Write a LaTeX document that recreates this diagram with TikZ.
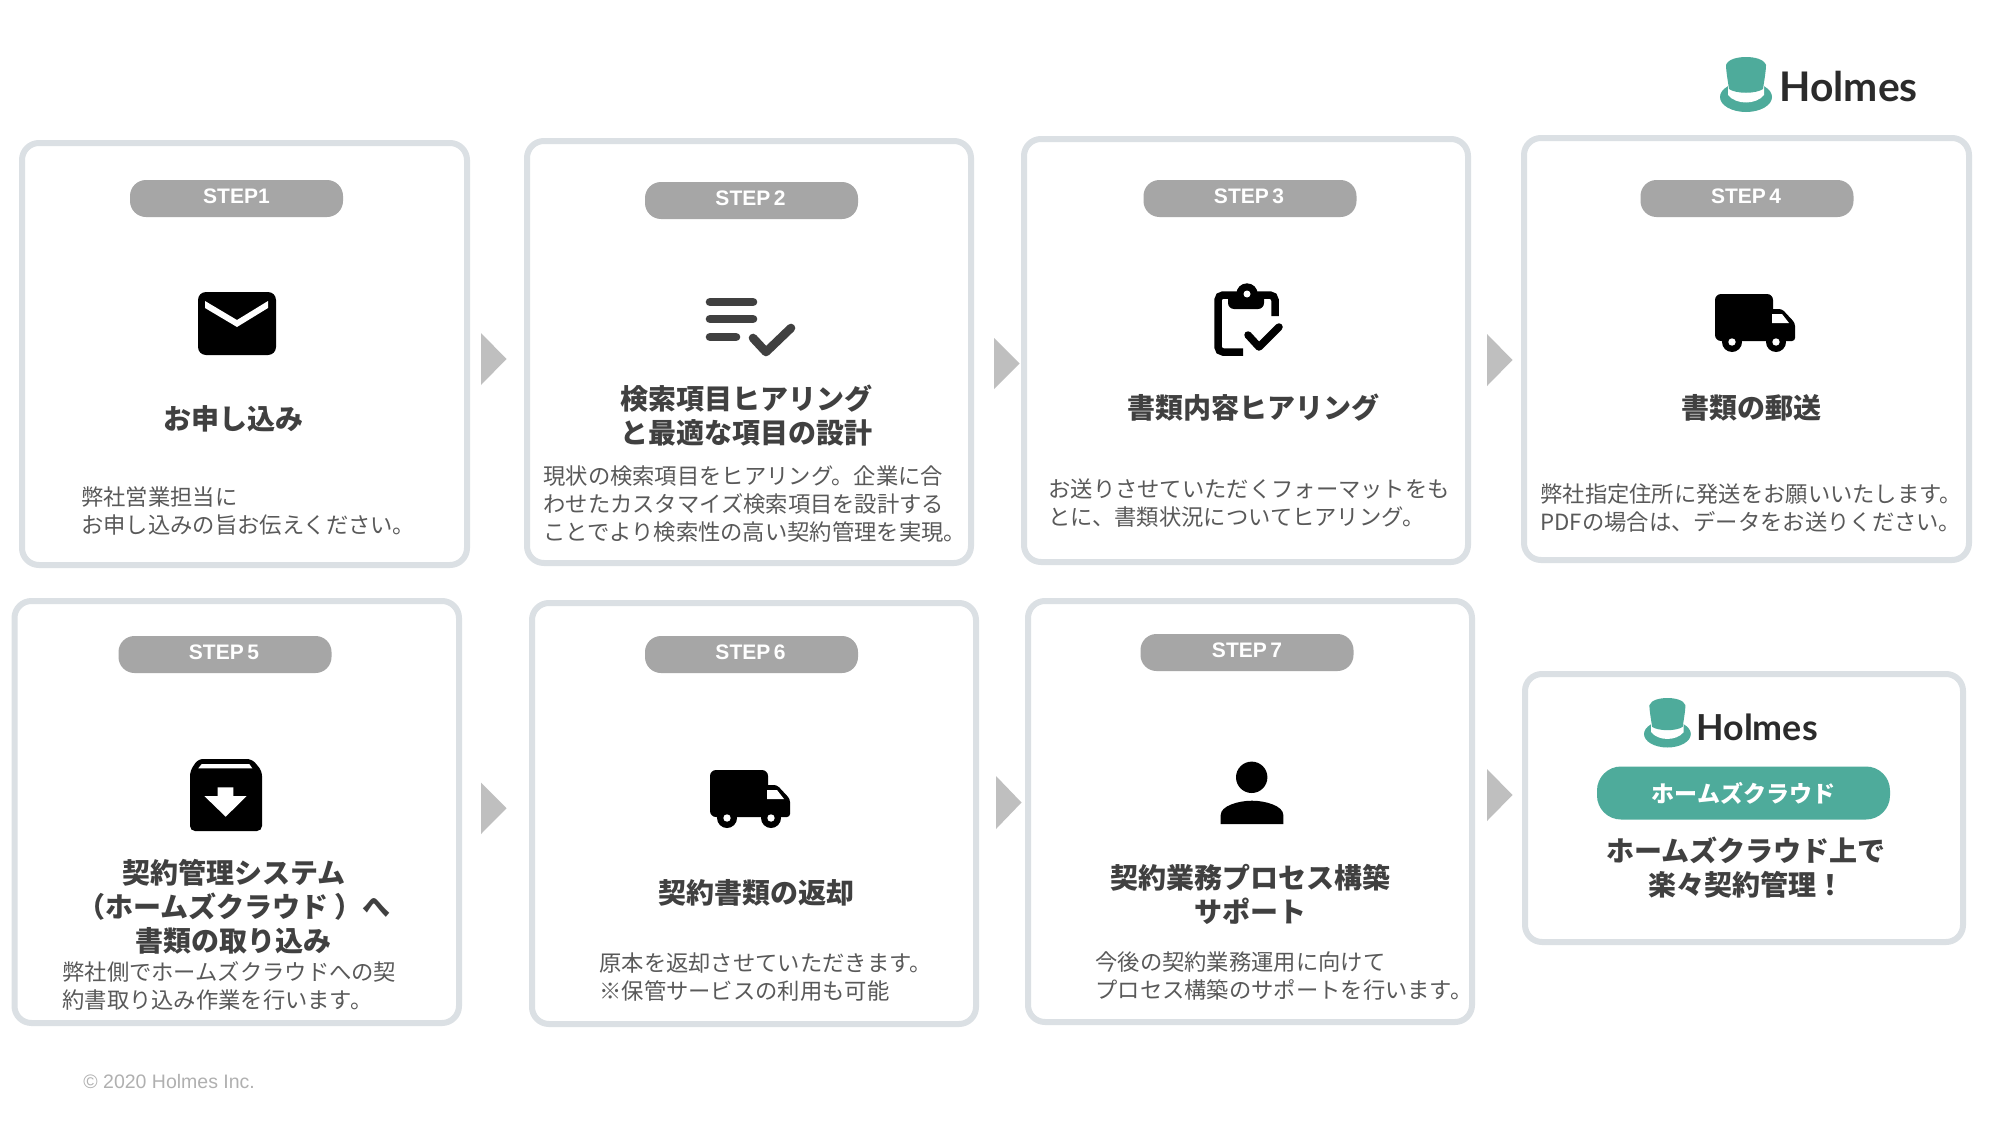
\documentclass[tikz,border=0pt]{standalone}
\usepackage{fontspec}
\setmainfont{Noto Sans CJK JP}
\newfontfamily\stepfont{Liberation Sans}
\newfontfamily\logofont{Lato}
\definecolor{cardline}{HTML}{DBE0E4}
\definecolor{pillgrey}{HTML}{A6A6A6}
\definecolor{arrowgrey}{HTML}{BFBFBF}
\definecolor{headgrey}{HTML}{404040}
\definecolor{bodygrey}{HTML}{595959}
\definecolor{teal}{HTML}{4EAB9B}
\definecolor{logotext}{HTML}{2B2B2B}
\definecolor{copygrey}{HTML}{B0B0B0}
\tikzset{
  card/.style={draw=cardline,line width=3pt,fill=white,rounded corners=8.5pt,inner sep=0pt},
  pill/.style={fill=pillgrey,rounded corners=8pt,inner sep=0pt,text=white,font=\stepfont\bfseries\fontsize{10.5}{12}\selectfont,minimum width=106.5pt,minimum height=18.5pt},
  tealpill/.style={fill=teal,rounded corners=12pt,inner sep=0pt,text=white,font=\bfseries\fontsize{11.5}{14}\selectfont,minimum width=146.5pt,minimum height=26.5pt},
  head/.style={text=headgrey,font=\bfseries\fontsize{14}{17}\selectfont,align=center,inner sep=0pt},
  body/.style={text=bodygrey,font=\fontsize{11.15}{14}\selectfont,align=left,anchor=west,inner sep=0pt},
  arrowtri/.style={fill=arrowgrey},
  logoword/.style={text=logotext,font=\logofont\bfseries,anchor=base west,inner sep=0pt},
  iconline/.style={line cap=round,line join=round,line width=4.3pt}
}
\newcommand{\cardbox}[5]{%
  \pgfmathsetmacro{\cw}{(#4-#2-6)*0.5}\pgfmathsetmacro{\ch}{(#5-#3-6)*0.5}%
  \node[card,minimum width=\cw pt,minimum height=\ch pt] (#1) at ({(#2+#4)/2},{(#3+#5)/2}) {};}
\newcommand{\tri}[3]{%
  \fill[arrowtri] (#1,#2) -- ({#1+25.5},{(#2+#3)/2}) -- (#1,#3) -- cycle;}
\newcommand{\holmeshat}[3]{%
  \begin{scope}[shift={(#1,#2)},scale=#3]
    \fill[teal] (26,40) ellipse [x radius=26,y radius=15];
    \fill[white] (8,28) -- (44,28) -- (44,38) .. controls (36,48) and (16,48) .. (8,38) -- cycle;
    \fill[teal] (6,8) .. controls (8,2) and (18,0) .. (26,0) .. controls (34,0) and (44,2) .. (46,8)
      .. controls (46,14) and (44,25) .. (43,32) .. controls (36,37) and (16,37) .. (9,32)
      .. controls (8,25) and (6,14) .. (6,8) -- cycle;
  \end{scope}}
\newcommand{\truck}[2]{%
  \begin{scope}[shift={(#1,#2)}]
    \fill[black,rounded corners=3pt] (0,0) rectangle (58,47);
    \fill[black,rounded corners=1.5pt] (50,15) -- (67,15) -- (80,29) -- (80,47) -- (50,47) -- cycle;
    \fill[white] (57,20) -- (67,20) -- (74,29) -- (57,29) -- cycle;
    \fill[black] (17,48) circle (10);
    \fill[black] (61,48) circle (10);
    \fill[white] (17,48) circle (3.7);
    \fill[white] (61,48) circle (3.7);
  \end{scope}}
\begin{document}
\begin{tikzpicture}[x=0.5pt,y=-0.5pt]
\useasboundingbox (0,0) rectangle (1998,1124);
\fill[white] (0,0) rectangle (1998,1124);

% cards
\cardbox{c1}{19}{140}{470}{568}
\cardbox{c2}{524}{138}{974}{566}
\cardbox{c3}{1021}{136}{1471}{565}
\cardbox{c4}{1521}{135}{1972}{563}
\cardbox{c5}{11.5}{598}{462}{1026}
\cardbox{c6}{529}{600}{979}{1027}
\cardbox{c7}{1025}{598}{1475}{1025}
\cardbox{c8}{1522}{671}{1966}{945}

% arrows
\tri{481}{333}{385}
\tri{994}{338}{389}
\tri{1487}{334}{386}
\tri{481}{782.5}{834}
\tri{996}{776}{829}
\tri{1487}{769}{821}

% pills
\node[pill] (p1) at (236.5,198.5) {\raisebox{2pt}{STEP1}};
\node[pill] (p2) at (751.5,200.5) {\hspace{-1pt}\raisebox{2pt}{STEP\,2}};
\node[pill] (p3) at (1250,198.5) {\hspace{-1pt}\raisebox{2pt}{STEP\,3}};
\node[pill] (p4) at (1747,198.5) {\hspace{-1pt}\raisebox{2pt}{STEP\,4}};
\node[pill] (p5) at (225,654.5) {\hspace{-1pt}\raisebox{2pt}{STEP\,5}};
\node[pill] (p6) at (751.5,654.5) {\hspace{-1pt}\raisebox{2pt}{STEP\,6}};
\node[pill] (p7) at (1247,652.5) {\raisebox{2pt}{STEP\,7}};
\node[tealpill] (p8) at (1743.5,793) {ホームズクラウド};

% headings
\node[head] (h1) at (233,419) {お申し込み};
\node[head] (h2) at (746,416) {検索項目ヒアリング\\と最適な項目の設計};
\node[head] (h3) at (1253,407.5) {書類内容ヒアリング};
\node[head] (h4) at (1751,408) {書類の郵送};
\node[head] (h5) at (234,907) {契約管理システム\\（ホームズクラウド ）へ\\書類の取り込み};
\node[head] (h6) at (756,892.5) {契約書類の返却};
\node[head] (h7) at (1250,894) {契約業務プロセス構築\\サポート};
\node[head] (h8) at (1746,868) {ホームズクラウド上で\\楽々契約管理！};

% bodies
\node[body] (b1) at (81,511) {弊社営業担当に\\お申し込みの旨お伝えください。};
\node[body] (b2) at (543,504) {現状の検索項目をヒアリング。企業に合\\わせたカスタマイズ検索項目を設計する\\ことでより検索性の高い契約管理を実現。};
\node[body] (b3) at (1048,503) {お送りさせていただくフォーマットをも\\とに、書類状況についてヒアリング。};
\node[body] (b4) at (1540,508) {弊社指定住所に発送をお願いいたします。\\PDFの場合は、データをお送りください。};
\node[body] (b5) at (62,986) {弊社側でホームズクラウドへの契\\約書取り込み作業を行います。};
\node[body] (b6) at (599,977) {原本を返却させていただきます。\\※保管サービスの利用も可能};
\node[body] (b7) at (1095,976) {今後の契約業務運用に向けて\\プロセス構築のサポートを行います。};

% copyright
\node[anchor=west,inner sep=0pt,text=copygrey,font=\stepfont\fontsize{9.75}{12}\selectfont] (copy) at (83,1082) {© 2020 Holmes Inc.};

% logos
\holmeshat{1720}{57}{1}
\node[logoword,font=\logofont\bfseries\fontsize{20.4}{22}\selectfont] (l1) at (1779,101) {Holmes};
\holmeshat{1644}{698}{0.9}
\node[logoword,font=\logofont\bfseries\fontsize{17.9}{20}\selectfont] (l2) at (1696,740) {Holmes};

% icon: mail
\fill[black,rounded corners=4pt] (198,292) rectangle (276,355);
\fill[white] (205,301) -- (237,320) -- (268,301) -- (268,308) -- (237,327) -- (205,308) -- cycle;

% icon: list + check
\begin{scope}[draw=headgrey,iconline]
\draw (710,302) -- (753,302);
\draw (710,319) -- (753,319);
\draw (710,337) -- (736,337);
\draw (753,338) -- (766,352) -- (791,328);
\end{scope}

% icon: clipboard
\draw[black,line width=3.75pt,rounded corners=2.5pt] (1275,316) -- (1275,295) -- (1218,295) -- (1218,352) -- (1243,352);
\fill[black,rounded corners=3pt] (1228,292) rectangle (1264,309);
\fill[black] (1247,294) circle (10.7);
\fill[white] (1247,294) circle (3.5);
\draw[black,line width=3.75pt,line cap=round,line join=round] (1248,335) -- (1259,347) -- (1279,327);

% icon: trucks
\truck{1715}{294}
\truck{710}{770}

% icon: archive
\fill[black,rounded corners=2.5pt] (198,759) -- (252,759) -- (262,771) -- (262,831) -- (190,831) -- (190,771) -- cycle;
\fill[white] (201.7,764) -- (249.3,764) -- (252.3,768.3) -- (198.3,768.3) -- cycle;
\fill[white] (217.7,787.3) -- (233.3,787.3) -- (233.3,796) -- (246.7,796) -- (225.7,816.7) -- (204.3,796) -- (217.7,796) -- cycle;

% icon: person
\fill[black] (1251.7,777.3) circle (15.7);
\fill[black] (1220.7,824) -- (1220.7,815) .. controls (1220.7,806) and (1238,800.7) .. (1252,800.7) .. controls (1266,800.7) and (1283.3,806) .. (1283.3,815) -- (1283.3,824) -- cycle;
\end{tikzpicture}
\end{document}
